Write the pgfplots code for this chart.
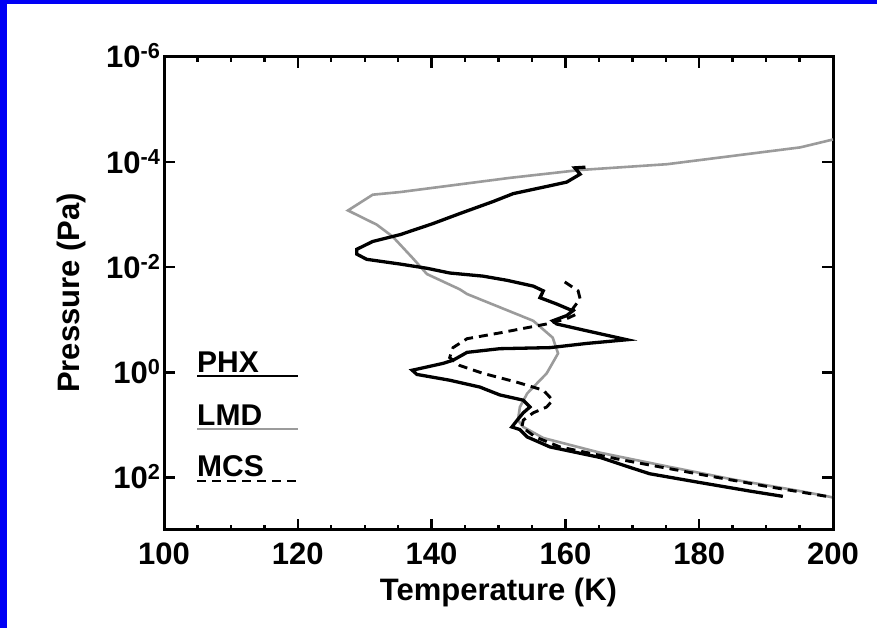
\documentclass[border=0pt]{standalone}
\usepackage{fontspec}
\setmainfont{Liberation Sans}
\usepackage{pgfplots}
\pgfplotsset{compat=1.18}
\definecolor{lmdgray}{RGB}{155,155,155}
\definecolor{frameblue}{RGB}{0,0,245}
\newcommand{\pw}[1]{10\textsuperscript{#1}}
\begin{document}
\begin{tikzpicture}[x=1pt,y=1pt]
\fill[frameblue] (0,0) rectangle (877,628);
\fill[white] (7,0) rectangle (877,624);
\path[use as bounding box] (0,0) rectangle (877,628);
\begin{axis}[
  at={(164pt,98pt)}, anchor=south west,
  scale only axis, width=669pt, height=473pt,
  xmin=100, xmax=200,
  ymode=log, ymin=1e-6, ymax=1e3, y dir=reverse,
  xtick={100,120,140,160,180,200},
  xticklabels={100,120,140,160,180,200},
  minor x tick num=3,
  ytick={1e-6,1e-4,1e-2,1,1e2},
  yticklabels={\pw{-6},\pw{-4},\pw{-2},\pw{0},\pw{2}},
  yminorticks=false,
  tick align=inside,
  major tick length=11pt, minor tick length=5pt,
  axis line style={line width=3pt},
  every tick/.append style={line width=2.4pt, black},
  tick label style={font=\fontsize{31}{31}\selectfont\bfseries},
  xticklabel style={yshift=-9pt},
  yticklabel style={anchor=base east, yshift=-11pt},
  xlabel={Temperature (K)},
  ylabel={Pressure (Pa)},
  label style={font=\fontsize{31}{31}\selectfont\bfseries},
  xlabel style={at={(axis description cs:0.5,-0.150)}, anchor=base},
  ylabel style={at={(axis description cs:-0.1256,0.501)}, anchor=base},
  clip=true,
]
% LMD
\addplot[lmdgray, line width=2.6pt] coordinates {
(200,3.715e-5) (195.1,5.248e-5) (175.2,1.096e-4) (162.2,1.413e-4) (151.7,1.995e-4)
(135.3,3.715e-4) (131.2,4.169e-4) (127.5,8.318e-4) (131.8,1.549e-3) (134.2,2.630e-3)
(137.2,6.761e-3) (139.3,1.349e-2) (144.2,2.630e-2) (145.3,3.236e-2) (155.2,1.047e-1)
(158.1,2.188e-1) (158.9,4.365e-1) (157.2,1.047) (154.3,2.512) (153.2,4.571)
(152.9,8.128) (153.7,10.96) (156.7,17.78) (165.2,33.88) (175.2,61.66)
(185.1,109.6) (195.1,182.0) (200,239.9)
};
% MCS
\addplot[black, line width=2.9pt, dash pattern=on 9pt off 6pt] coordinates {
(159.9,1.905e-2) (161.9,2.818e-2) (162.2,3.981e-2) (161.1,6.166e-2) (161.7,7.762e-2)
(160.2,9.550e-2) (157.2,1.202e-1) (154.3,1.413e-1) (150.2,1.778e-1) (145.3,2.291e-1)
(143.2,3.388e-1) (142.7,5.248e-1) (144.2,7.413e-1) (147.7,1.047) (152.8,1.549)
(156.7,2.188) (158.1,3.388) (157.2,4.571) (155.2,5.888) (153.7,8.128)
(153.5,10.96) (155.5,16.98) (159.2,26.30) (168.2,45.71) (180.1,87.10)
(190.1,147.9) (200,239.9)
};
% PHX
\addplot[black, line width=3.3pt] coordinates {
(163.0,1.25e-4) (161.4,1.288e-4) (162.2,1.698e-4) (160.2,2.399e-4) (157.7,2.818e-4) (152.2,3.981e-4)
(149.2,5.623e-4) (144.2,9.550e-4) (140.2,1.479e-3) (135.3,2.399e-3) (131.2,3.236e-3)
(128.8,4.571e-3) (128.8,5.623e-3) (130.3,7.079e-3) (135.3,8.710e-3) (139.3,1.047e-2)
(142.7,1.288e-2) (147.7,1.479e-2) (151.3,1.778e-2) (155.2,2.291e-2) (156.7,2.818e-2)
(156.2,3.802e-2) (158.7,5.012e-2) (161.1,6.761e-2) (160.2,8.318e-2) (158.1,1.047e-1)
(158.7,1.202e-1) (163.2,1.622e-1) (169.2,2.399e-1) (163.2,2.818e-1) (157.7,3.388e-1)
(150.2,3.548e-1) (145.3,4.169e-1) (143.2,5.888e-1) (141.7,6.761e-1) (137.1,9.120e-1)
(137.8,1.096) (142.7,1.413) (147.2,1.905) (150.2,2.692) (153.7,3.388)
(154.7,4.571) (153.7,5.888) (152.8,8.128) (152.0,10.96) (153.2,12.30)
(154.3,16.98) (157.7,26.30) (165.2,41.69) (169.2,61.66) (172.6,85.1)
(180.1,125.0) (187.6,182.0) (192.5,229.1)
};
\end{axis}
% legend
\begin{scope}[font=\fontsize{30}{30}\selectfont\bfseries]
\node[anchor=base west, inner sep=0pt] at (197,255) {PHX};
\draw[black, line width=2.8pt] (197,252) -- (298,252);
\node[anchor=base west, inner sep=0pt] at (197,202) {LMD};
\draw[lmdgray, line width=2.8pt] (197,199) -- (298,199);
\node[anchor=base west, inner sep=0pt] at (197,151) {MCS};
\draw[black, line width=2.8pt, dash pattern=on 9pt off 6pt] (197,147) -- (298,147);
\end{scope}
\end{tikzpicture}
\end{document}
